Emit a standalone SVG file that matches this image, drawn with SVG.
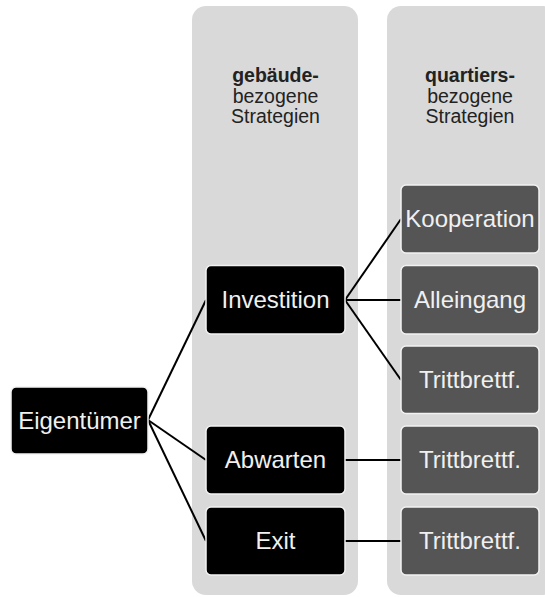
<svg xmlns="http://www.w3.org/2000/svg" width="545" height="597" viewBox="0 0 545 597">
<style>
.col{fill:#d9d9d9}
.blk{fill:#000;stroke:#f2f2f2;stroke-width:1.5}
.gry{fill:#555;stroke:#f2f2f2;stroke-width:1.5}
.t{font-family:"Liberation Sans",Arial,sans-serif;font-size:24px;fill:#f0f0f0;text-anchor:middle}
.h{font-family:"Liberation Sans",Arial,sans-serif;font-size:19.5px;fill:#222;text-anchor:middle}
.b{font-weight:bold}
.c{stroke:#000;stroke-width:2;fill:none}
</style>
<rect width="545" height="597" fill="#fff"/>
<g id="col-gebaeude">
<rect class="col" x="192" y="6" width="166" height="589" rx="14"/>
<text class="h" x="275.5"><tspan class="b" x="275.5" y="82">gebäude-</tspan><tspan x="275.5" y="102.5">bezogene</tspan><tspan x="275.5" y="123">Strategien</tspan></text>
</g>
<g id="col-quartier">
<rect class="col" x="387" y="6" width="170" height="589" rx="14"/>
<text class="h" x="470"><tspan class="b" x="470" y="82">quartiers-</tspan><tspan x="470" y="102.5">bezogene</tspan><tspan x="470" y="123">Strategien</tspan></text>
</g>
<g id="connectors">
<line class="c" x1="148" y1="420" x2="206" y2="300"/>
<line class="c" x1="148" y1="420" x2="206" y2="460"/>
<line class="c" x1="148" y1="420" x2="206" y2="541"/>
<line class="c" x1="345" y1="300" x2="401" y2="219"/>
<line class="c" x1="345" y1="300" x2="401" y2="300"/>
<line class="c" x1="345" y1="300" x2="401" y2="380"/>
<line class="c" x1="345" y1="460" x2="401" y2="460"/>
<line class="c" x1="345" y1="541" x2="401" y2="541"/>
</g>
<g id="eigentuemer"><rect class="blk" x="11" y="387" width="137" height="67" rx="5"/><text class="t" x="79.5" y="428.5">Eigentümer</text></g>
<g id="investition"><rect class="blk" x="206" y="265.5" width="139" height="68.5" rx="5"/><text class="t" x="275.5" y="308">Investition</text></g>
<g id="abwarten"><rect class="blk" x="206" y="426" width="139" height="68" rx="5"/><text class="t" x="275.5" y="468">Abwarten</text></g>
<g id="exit"><rect class="blk" x="206" y="507" width="139" height="68" rx="5"/><text class="t" x="275.5" y="549">Exit</text></g>
<g id="kooperation"><rect class="gry" x="401" y="185" width="138" height="68" rx="5"/><text class="t" x="470" y="227">Kooperation</text></g>
<g id="alleingang"><rect class="gry" x="401" y="265.5" width="138" height="68.5" rx="5"/><text class="t" x="470" y="308">Alleingang</text></g>
<g id="trittbrett1"><rect class="gry" x="401" y="346" width="138" height="67.5" rx="5"/><text class="t" x="470" y="388">Trittbrettf.</text></g>
<g id="trittbrett2"><rect class="gry" x="401" y="426" width="138" height="68" rx="5"/><text class="t" x="470" y="468">Trittbrettf.</text></g>
<g id="trittbrett3"><rect class="gry" x="401" y="507" width="138" height="68" rx="5"/><text class="t" x="470" y="549">Trittbrettf.</text></g>
</svg>
